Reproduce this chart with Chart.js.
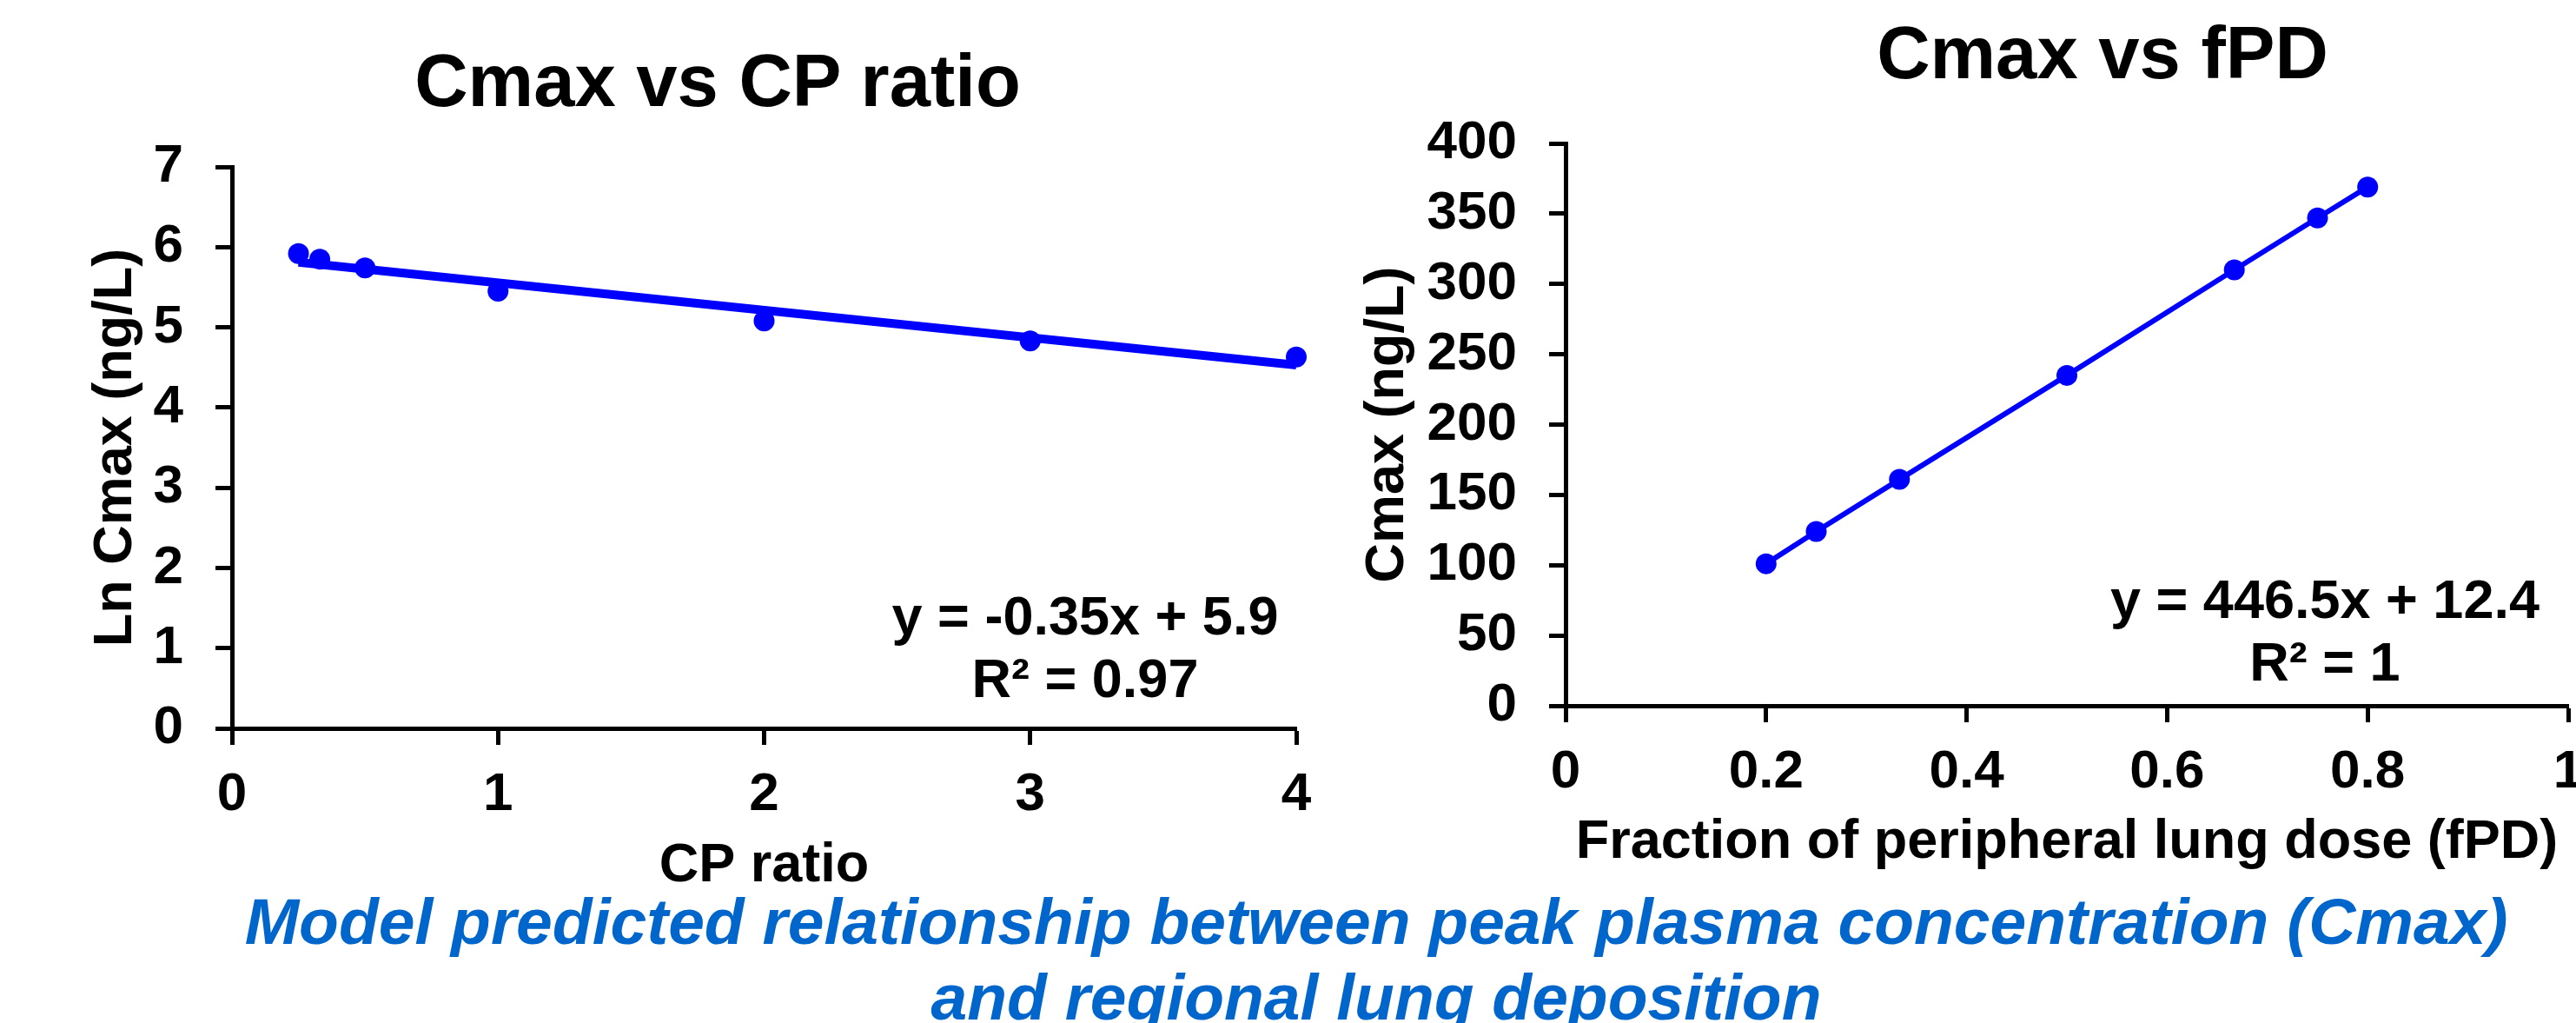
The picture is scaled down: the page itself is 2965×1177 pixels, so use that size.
<!DOCTYPE html>
<html>
<head>
<meta charset="utf-8">
<script src="https://cdn.jsdelivr.net/npm/chart.js@4/dist/chart.umd.min.js"></script>
<style>
    body {
        margin: 0;
        background: #fff;
        width: 2965px;
        height: 1177px;
        overflow: hidden;
        position: relative;
        font-family: 'Liberation Sans', Arial, sans-serif;
    }
    canvas {
        position: absolute;
        top: 0;
    }
    .titulo {
        position: absolute;
        width: 1000px;
        text-align: center;
        font-weight: bold;
        font-size: 85px;
        line-height: 85px;
        white-space: nowrap;
        color: #000;
    }
    #legenda {
        position: absolute;
        left: 184px;
        top: 1017px;
        width: 2800px;
        text-align: center;
        font-weight: bold;
        font-style: italic;
        font-size: 75px;
        line-height: 87px;
        color: #0066cc;
    }
</style>
</head>
<body>
<div class="titulo" style="left: 326px; top: 50px;">Cmax vs CP ratio</div>
<div class="titulo" style="left: 1920px; top: 18px;">Cmax vs fPD</div>

<canvas id="grafico_cp" width="1540" height="1038" style="left: 0px;"></canvas>
<canvas id="grafico_fpd" width="1500" height="1012" style="left: 1500px;"></canvas>

<div id="legenda">Model predicted relationship between peak plasma concentration (Cmax)<br>and regional lung deposition</div>

<script>
// dados do grafico da esquerda (Cmax vs CP ratio)
var cp_ratio = [0.25, 0.33, 0.5, 1, 2, 3, 4];
var ln_cmax = [5.92, 5.85, 5.74, 5.45, 5.08, 4.83, 4.63];
var tendencia_cp_x = [0.25, 4];
var tendencia_cp_y = [5.81, 4.53];
var ticks_cp_x = ['0', '1', '2', '3', '4'];
var ticks_cp_y = ['0', '1', '2', '3', '4', '5', '6', '7'];
var equacao_cp = ['y = -0.35x + 5.9', 'R\u00b2 = 0.97'];

// dados do grafico da direita (Cmax vs fPD)
var fpd = [0.2, 0.25, 0.333, 0.5, 0.667, 0.75, 0.8];
var cmax = [101, 124, 161, 235, 310, 347, 369];
var ticks_fpd_x = ['0', '0.2', '0.4', '0.6', '0.8', '1'];
var ticks_fpd_y = ['0', '50', '100', '150', '200', '250', '300', '350', '400'];
var equacao_fpd = ['y = 446.5x + 12.4', 'R\u00b2 = 1'];

var fonte = "'Liberation Sans', Arial, sans-serif";
var azul = '#0000ff';

Chart.defaults.font.family = fonte;
Chart.defaults.font.weight = 'bold';
Chart.defaults.color = '#000';

function juntar_pontos(xs, ys) {
    var pontos = [];
    for (var i = 0; i < xs.length; i++) {
        pontos.push({ x: xs[i], y: ys[i] });
    }
    return pontos;
}

// texto da equacao da linha de tendencia
var texto_equacao = {
    id: 'texto_equacao',
    afterDatasetsDraw(chart, args, opts) {
        var ctx = chart.ctx;
        ctx.save();
        ctx.font = 'bold 63px ' + fonte;
        ctx.fillStyle = '#000';
        ctx.textAlign = 'center';
        ctx.textBaseline = 'middle';
        for (var i = 0; i < opts.linhas.length; i++) {
            ctx.fillText(opts.linhas[i], opts.x, opts.y + i * 72);
        }
        ctx.restore();
    }
};

function eixo(min, max, passo, labels, titulo, largura_ou_altura, titulo_padding, horizontal) {
    return {
        type: 'linear',
        min: min,
        max: max,
        ticks: {
            stepSize: passo,
            autoSkip: false,
            maxRotation: 0,
            padding: horizontal ? 21 : 37,
            font: { size: 62, weight: 'bold' },
            color: '#000',
            callback: (v, i) => labels[i]
        },
        grid: {
            drawOnChartArea: false,
            drawTicks: true,
            tickLength: 19,
            tickWidth: 5,
            tickColor: '#000'
        },
        border: { display: true, color: '#000', width: 5 },
        title: {
            display: true,
            text: titulo,
            color: '#000',
            font: { size: 63, weight: 'bold' },
            padding: titulo_padding
        },
        afterFit: (scale) => {
            if (horizontal) {
                scale.height = largura_ou_altura;
            } else {
                scale.width = largura_ou_altura;
            }
        }
    };
}

// grafico da esquerda
new Chart(document.getElementById('grafico_cp'), {
    type: 'scatter',
    data: {
        datasets: [{
            label: 'Ln Cmax',
            data: juntar_pontos(cp_ratio, ln_cmax),
            backgroundColor: azul,
            borderColor: azul,
            pointRadius: 12,
            pointBorderWidth: 0,
            clip: false
        }, {
            label: 'Linear',
            data: juntar_pontos(tendencia_cp_x, tendencia_cp_y),
            showLine: true,
            borderColor: azul,
            borderWidth: 10,
            pointRadius: 0,
            clip: false
        }]
    },
    options: {
        responsive: false,
        animation: false,
        layout: { padding: { top: 192, right: 48, bottom: 0, left: 0 } },
        plugins: {
            legend: { display: false },
            tooltip: { enabled: false },
            texto_equacao: { linhas: equacao_cp, x: 1249, y: 713 }
        },
        scales: {
            x: eixo(0, 4, 1, ticks_cp_x, 'CP ratio', 200, { bottom: 4 }, true),
            y: eixo(0, 7, 1, ticks_cp_y, 'Ln Cmax (ng/L)', 267, { top: 96 }, false)
        }
    },
    plugins: [texto_equacao]
});

// grafico da direita
new Chart(document.getElementById('grafico_fpd'), {
    type: 'scatter',
    data: {
        datasets: [{
            label: 'Cmax',
            data: juntar_pontos(fpd, cmax),
            showLine: true,
            backgroundColor: azul,
            borderColor: azul,
            borderWidth: 6,
            pointRadius: 12,
            pointBorderWidth: 0,
            clip: false
        }]
    },
    options: {
        responsive: false,
        animation: false,
        layout: { padding: { top: 165, right: 44, bottom: 0, left: 0 } },
        plugins: {
            legend: { display: false },
            tooltip: { enabled: false },
            texto_equacao: { linhas: equacao_fpd, x: 1176, y: 694 }
        },
        scales: {
            x: eixo(0, 1, 0.2, ticks_fpd_x, 'Fraction of peripheral lung dose (fPD)', 200, { bottom: 5 }, true),
            y: eixo(0, 400, 50, ticks_fpd_y, 'Cmax (ng/L)', 302, { top: 60 }, false)
        }
    },
    plugins: [texto_equacao]
});
</script>
</body>
</html>
